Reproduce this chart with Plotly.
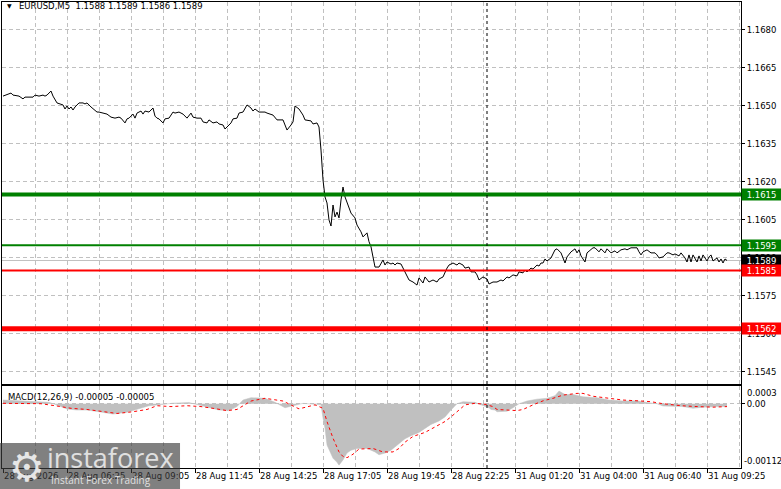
import plotly.graph_objects as go

# ---------------- data ----------------
symbol_title = "EURUSD,M5  1.1588 1.1589 1.1586 1.1589"
macd_title = "MACD(12,26,9) -0.00005 -0.00005"

price_bars = [0, 4, 5, 8, 10, 11, 15, 16, 18, 20, 21, 22, 24, 25, 27, 30, 31, 32, 33, 34, 35, 36, 38, 40, 41, 42,
              44, 45, 47, 48, 50, 52, 54, 56, 58, 59, 61, 62, 63, 65, 66, 67, 69, 70, 71, 73, 75, 76, 77, 78, 80,
              81, 83, 85, 86, 88, 90, 91, 92, 94, 95, 97, 99, 100, 102, 103, 105, 107, 108, 110, 111, 112, 114,
              115, 117, 118, 120, 122, 124, 125, 126, 128, 131, 132, 135, 137, 140, 141, 142, 144, 145, 146, 148,
              150, 151, 154, 155, 157, 158, 159, 160, 161, 162, 163, 164, 165, 166, 167, 168, 169, 170, 171, 172,
              174, 176, 177, 179, 180, 182, 183, 184, 185, 186, 188, 190, 191, 192, 194, 195, 196, 197, 199, 200,
              202, 203, 205, 207, 208, 210, 211, 213, 215, 217, 218, 220, 222, 223, 225, 227, 228, 230, 231, 233,
              234, 236, 237, 238, 240, 242, 243, 245, 247, 249, 250, 252, 253, 255, 257, 258, 260, 261, 262, 264,
              265, 267, 268, 269, 270, 271, 272, 274, 276, 277, 279, 280, 281, 282, 284, 286, 287, 288, 289, 291,
              292, 295, 296, 298, 299, 301, 302, 304, 306, 307, 309, 311, 312, 314, 315, 317, 318, 319, 320, 322,
              324, 326, 327, 328, 330, 332, 333, 335, 336, 338, 339, 341, 342, 343, 344, 345, 347, 348, 349, 350,
              352, 353, 354, 355, 357, 358, 359, 360, 361, 362]
price_close = [1.16539, 1.16551, 1.16543, 1.16539, 1.16528, 1.16535, 1.16535, 1.16543, 1.16539, 1.16543, 1.16539,
               1.16543, 1.16559, 1.16539, 1.16512, 1.16504, 1.16488, 1.16500, 1.16488, 1.16496, 1.16484, 1.16496,
               1.16512, 1.16512, 1.16508, 1.16512, 1.16496, 1.16488, 1.16476, 1.16476, 1.16472, 1.16468, 1.16456,
               1.16452, 1.16456, 1.16452, 1.16433, 1.16449, 1.16452, 1.16468, 1.16452, 1.16472, 1.16480, 1.16468,
               1.16480, 1.16476, 1.16492, 1.16460, 1.16452, 1.16449, 1.16433, 1.16449, 1.16452, 1.16476, 1.16472,
               1.16476, 1.16468, 1.16460, 1.16452, 1.16472, 1.16456, 1.16452, 1.16452, 1.16437, 1.16433, 1.16445,
               1.16433, 1.16437, 1.16429, 1.16425, 1.16409, 1.16417, 1.16433, 1.16449, 1.16452, 1.16472, 1.16476,
               1.16504, 1.16492, 1.16480, 1.16488, 1.16476, 1.16476, 1.16472, 1.16464, 1.16445, 1.16445, 1.16425,
               1.16405, 1.16425, 1.16437, 1.16500, 1.16488, 1.16464, 1.16445, 1.16441, 1.16429, 1.16433, 1.16417,
               1.16326, 1.16208, 1.16141, 1.16117, 1.16050, 1.16026, 1.16109, 1.16062, 1.16081, 1.16058, 1.16129,
               1.16180, 1.16141, 1.16117, 1.16077, 1.16058, 1.16030, 1.16003, 1.15983, 1.15999, 1.15964, 1.15944,
               1.15904, 1.15864, 1.15864, 1.15892, 1.15872, 1.15884, 1.15876, 1.15880, 1.15872, 1.15880, 1.15876,
               1.15860, 1.15833, 1.15813, 1.15805, 1.15793, 1.15821, 1.15801, 1.15825, 1.15805, 1.15813, 1.15805,
               1.15817, 1.15825, 1.15860, 1.15872, 1.15880, 1.15872, 1.15880, 1.15872, 1.15860, 1.15864, 1.15845,
               1.15845, 1.15833, 1.15813, 1.15825, 1.15817, 1.15797, 1.15805, 1.15805, 1.15813, 1.15809, 1.15825,
               1.15821, 1.15833, 1.15829, 1.15845, 1.15841, 1.15852, 1.15845, 1.15860, 1.15856, 1.15872, 1.15868,
               1.15880, 1.15880, 1.15896, 1.15888, 1.15900, 1.15932, 1.15936, 1.15920, 1.15900, 1.15880, 1.15904,
               1.15924, 1.15936, 1.15920, 1.15932, 1.15908, 1.15884, 1.15920, 1.15940, 1.15940, 1.15924, 1.15936,
               1.15920, 1.15936, 1.15920, 1.15928, 1.15920, 1.15932, 1.15936, 1.15932, 1.15940, 1.15940, 1.15940,
               1.15924, 1.15912, 1.15924, 1.15932, 1.15920, 1.15920, 1.15912, 1.15900, 1.15904, 1.15920, 1.15920,
               1.15912, 1.15916, 1.15908, 1.15920, 1.15900, 1.15884, 1.15912, 1.15884, 1.15912, 1.15884, 1.15908,
               1.15888, 1.15912, 1.15888, 1.15904, 1.15912, 1.15888, 1.15900, 1.15884, 1.15896, 1.15880, 1.15896,
               1.15890]

hist_bars = [0, 7, 15, 23, 27, 32, 37, 42, 48, 55, 62, 68, 73, 78, 85, 93, 102, 108, 113, 117, 120, 123, 124, 131,
             136, 141, 145, 150, 156, 159, 160, 161, 162, 164, 165, 167, 168, 170, 172, 174, 177, 182, 186, 188,
             191, 194, 198, 201, 204, 208, 211, 214, 218, 221, 224, 227, 230, 236, 239, 243, 244, 246, 247, 252,
             255, 258, 262, 267, 272, 276, 278, 281, 285, 290, 297, 303, 310, 317, 322, 327, 330, 335, 340, 345,
             350, 357, 362]
hist_vals = [0.000064, 0.000052, 0.000047, 0.000024, -0.000023, -0.000092, -0.00011, -0.00011, -0.00014, -0.00018,
             -0.00015, -0.00009, -0.000035, -0.00002, 0.00001, 0.00002, -0.00005, -0.00011, -0.00012, -0.00005,
             0.000064, 0.000094, 0.000105, 0.000094, 0.000024, -0.00007, -0.000035, 0.000007, -0.00001, -0.00002,
             -0.00025, -0.00043, -0.00072, -0.00086, -0.00095, -0.00102, -0.00107, -0.00098, -0.00086, -0.00081,
             -0.00078, -0.00078, -0.00084, -0.00089, -0.00086, -0.00081, -0.00069, -0.00061, -0.00056, -0.0005,
             -0.00043, -0.00036, -0.0003, -0.00023, -0.00011, 0.0, 0.000035, 0.000024, -0.00002, -0.00007,
             -0.0001, -0.00011, -0.00014, -0.00013, -0.00007, 0.0, 0.000047, 0.00008, 0.000094, 0.00014, 0.00022,
             0.00016, 0.00016, 0.00012, 0.000105, 0.000064, 0.000047, 0.00005, 0.00002, 0.0, -0.00004, -0.00004,
             -0.00005, -0.00008, -0.00006, -0.00005, -0.00005]

signal_bars = [0, 9, 19, 27, 34, 42, 48, 57, 65, 72, 77, 84, 92, 99, 105, 112, 117, 122, 124, 131, 140, 148, 152,
               156, 160, 162, 165, 168, 170, 172, 175, 178, 185, 190, 195, 198, 201, 205, 211, 216, 221, 224, 228,
               231, 236, 241, 245, 247, 257, 260, 265, 270, 275, 280, 287, 290, 295, 302, 310, 319, 324, 330, 339,
               347, 355, 362]
signal_vals = [0.000007, 0.0, 0.0, -0.00004, -0.00008, -0.0001, -0.00013, -0.00017, -0.00014, -0.0001, -0.000035,
               -0.00005, -0.000035, -0.00005, -0.00008, -0.00012, -0.0001, 0.000007, 0.000047, 0.000094, 0.000047,
               -0.00009, -0.00005, -0.00002, -0.00008, -0.00031, -0.0006, -0.00084, -0.00092, -0.00094, -0.00088,
               -0.00079, -0.00078, -0.00084, -0.00084, -0.00078, -0.00067, -0.00057, -0.0005, -0.00041, -0.00031,
               -0.00023, -0.00011, -0.00002, 0.000007, -0.00001, -0.00005, -0.0001, -0.00012, -0.0001, -0.00002,
               0.00005, 0.000094, 0.00015, 0.00018, 0.00018, 0.00013, 0.000094, 0.000064, 0.000047, 0.000035, 0.0,
               -0.000035, -0.00005, -0.00006, -0.00005]

level_prices = [1.1615, 1.1595, 1.1585, 1.1562]
last_price = 1.1589
price_ticks = [1.1545, 1.1560, 1.1575, 1.1590, 1.1605, 1.1620, 1.1635, 1.1650, 1.1665, 1.1680]
macd_max = 0.0003
macd_min = -0.00112

time_tick_bars = [0, 32, 64, 96, 128, 160, 192, 224, 256, 288, 320, 352]
time_tick_labels = ["28 Aug 2026", "28 Aug 06:25", "28 Aug 09:05", "28 Aug 11:45", "28 Aug 14:25",
                    "28 Aug 17:05", "28 Aug 19:45", "28 Aug 22:25", "31 Aug 01:20", "31 Aug 04:00",
                    "31 Aug 06:40", "31 Aug 09:25"]
grid_minor_bars = [16, 48, 80, 112, 144, 176, 208, 240, 272, 304, 336, 368]
separator_bar = 242

# ---------------- styling ----------------
FONT = "DejaVu Sans"
FS = 8.5
GRID = "#c0c0c0"
GREEN = "#008000"
RED = "#ff0000"

fig = go.Figure()

fig.add_trace(go.Scatter(x=price_bars, y=price_close, mode="lines",
                         line=dict(color="black", width=1), xaxis="x", yaxis="y",
                         hoverinfo="skip", showlegend=False))

fig.add_trace(go.Scatter(x=hist_bars, y=hist_vals, mode="lines", fill="tozeroy",
                         fillcolor="#c0c0c0", line=dict(color="#c0c0c0", width=0.5),
                         xaxis="x2", yaxis="y2", hoverinfo="skip", showlegend=False))

fig.add_trace(go.Scatter(x=signal_bars, y=signal_vals, mode="lines",
                         line=dict(color=RED, width=1, dash="3px,3px"),
                         xaxis="x2", yaxis="y2", hoverinfo="skip", showlegend=False))

shapes = []
# bid line
shapes.append(dict(type="line", xref="paper", x0=0, x1=1, yref="y", y0=last_price, y1=last_price,
                   line=dict(color="#c0c0c0", width=1), layer="below"))
level_styles = [(GREEN, 4), (GREEN, 2), (RED, 2), (RED, 5)]
for lv, (col, w) in zip(level_prices, level_styles):
    shapes.append(dict(type="line", xref="paper", x0=0, x1=1, yref="y", y0=lv, y1=lv,
                       line=dict(color=col, width=w), layer="above"))
# period separator
shapes.append(dict(type="line", xref="x", x0=separator_bar, x1=separator_bar, yref="paper", y0=0, y1=1,
                   line=dict(color="black", width=1, dash="3px,3px"), layer="above"))
# watermark panel
shapes.append(dict(type="rect", xref="paper", yref="paper", x0=-0.003, x1=0.2409, y0=-0.046, y1=0.0536,
                   fillcolor="rgba(60,60,60,0.65)", line=dict(width=0), layer="above"))

annotations = []
# price boxes on the right axis
box_items = [(1.1615, GREEN), (1.1595, GREEN), (last_price, "black"), (1.1585, RED), (1.1562, RED)]
for val, col in box_items:
    annotations.append(dict(xref="paper", x=1, xanchor="left", yref="y", y=val, yanchor="middle",
                            text=f"{val:.4f}", showarrow=False, bgcolor=col, borderpad=0,
                            width=39, height=11, align="center", valign="middle",
                            font=dict(family=FONT, size=FS, color="white")))
# macd scale extremes
annotations.append(dict(xref="paper", x=1, xanchor="left", xshift=4, yref="y2", y=macd_max, yanchor="top",
                        text="0.0003", showarrow=False, font=dict(family=FONT, size=FS, color="black")))
annotations.append(dict(xref="paper", x=1, xanchor="left", xshift=1, yref="y2", y=macd_min, yanchor="bottom",
                        text="-0.00112", showarrow=False, font=dict(family=FONT, size=FS, color="black")))
# titles
annotations.append(dict(xref="paper", yref="paper", x=0.004, y=0.992, xanchor="left", yanchor="middle",
                        text="▼", showarrow=False, font=dict(family=FONT, size=6, color="black")))
annotations.append(dict(xref="paper", yref="paper", x=0.0205, y=0.992, xanchor="left", yanchor="middle",
                        text=symbol_title, showarrow=False, font=dict(family=FONT, size=FS, color="black")))
annotations.append(dict(xref="paper", yref="paper", x=0.005, y=0.153, xanchor="left", yanchor="middle",
                        text=macd_title, showarrow=False, font=dict(family=FONT, size=FS, color="black")))
# watermark texts
annotations.append(dict(xref="paper", yref="paper", x=0.034, y=0.002, xanchor="center", yanchor="middle",
                        text="⚙", showarrow=False, font=dict(family="DejaVu Sans", size=40, color="#e6e6e6")))
annotations.append(dict(xref="paper", yref="paper", x=0.1468, y=0.022, xanchor="center", yanchor="middle",
                        text="instaforex", showarrow=False, font=dict(family="Open Sans", size=27, color="#e0e0e0")))
annotations.append(dict(xref="paper", yref="paper", x=0.0635, y=-0.026, xanchor="left", yanchor="middle",
                        text="Instant Forex Trading", showarrow=False,
                        font=dict(family="Open Sans", size=10, color="#e0e0e0")))

axis_common = dict(showline=True, mirror=True, linecolor="black", linewidth=1, zeroline=False)

fig.update_layout(
    width=781, height=489,
    margin=dict(l=2, r=40, t=2, b=21),
    paper_bgcolor="white", plot_bgcolor="white",
    font=dict(family=FONT, size=FS, color="black"),
    showlegend=False,
    xaxis=dict(domain=[0, 1], anchor="y", range=[-0.5, 369], tickmode="array",
               tickvals=time_tick_bars + grid_minor_bars, showticklabels=False, ticks="",
               showgrid=True, gridcolor=GRID, griddash="4px,3px", gridwidth=1, **axis_common),
    yaxis=dict(domain=[0.1803, 1], anchor="x", side="right", range=[1.154024, 1.169105],
               tickmode="array", tickvals=price_ticks, tickformat=".4f", ticks="outside", ticklen=3,
               tickcolor="black", showgrid=True, gridcolor=GRID, griddash="4px,3px", **axis_common),
    xaxis2=dict(domain=[0, 1], anchor="y2", range=[-0.5, 369], tickmode="array",
                tickvals=time_tick_bars, ticktext=time_tick_labels, ticks="outside", ticklen=4,
                tickcolor="black", ticklabelposition="outside right", tickangle=0,
                showgrid=True, gridcolor=GRID, griddash="4px,3px",
                minor=dict(tickmode="array", tickvals=grid_minor_bars, showgrid=True, gridcolor=GRID,
                           griddash="4px,3px", ticks=""),
                **axis_common),
    yaxis2=dict(domain=[0, 0.1749], anchor="x2", side="right", range=[macd_min, macd_max],
                tickmode="array", tickvals=[0], ticktext=["0.00"], ticks="outside", ticklen=3,
                tickcolor="black", showgrid=True, gridcolor=GRID, griddash="4px,3px", **axis_common),
    shapes=shapes,
    annotations=annotations,
)

fig.write_html("out.html", config={"displayModeBar": False},
               post_script="document.body.style.margin='0';document.body.style.padding='0';")
